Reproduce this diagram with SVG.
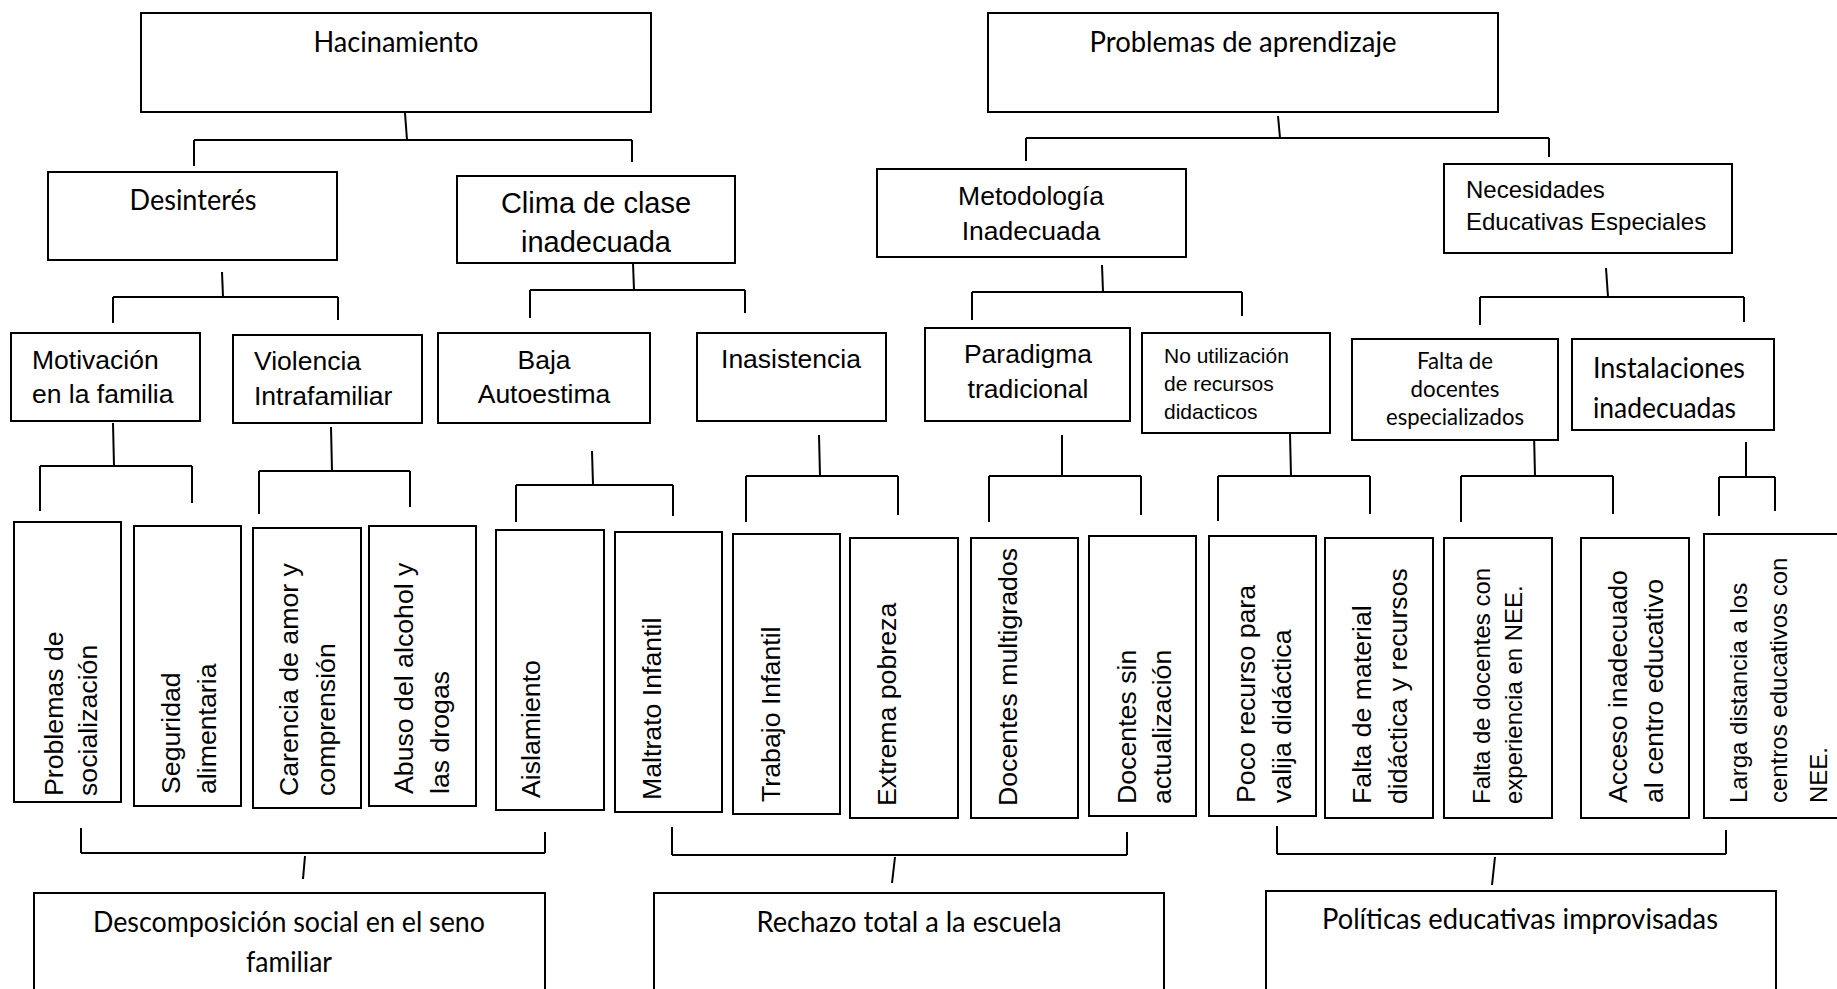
<svg xmlns="http://www.w3.org/2000/svg" width="1837" height="989" viewBox="0 0 1837 989">
<style>
rect{fill:#fff;stroke:#000;stroke-width:2}
.c line{stroke:#000;stroke-width:2}
.cal{font-family:Lato,"Liberation Sans",sans-serif;fill:#000}
.ar{font-family:"Liberation Sans",Arial,sans-serif;fill:#000}
.v{font-family:"Liberation Sans",Arial,sans-serif;fill:#000;font-size:26.7px}
.v24{font-family:"Liberation Sans",Arial,sans-serif;fill:#000;font-size:24px}
.m{text-anchor:middle}
</style>
<rect x="0" y="0" width="1837" height="989" style="fill:#fff;stroke:none"/>
<g class="c" id="connectors">
<line x1="405" y1="113" x2="407" y2="140"/><line x1="194" y1="140" x2="632" y2="140"/><line x1="194" y1="140" x2="194" y2="166"/><line x1="632" y1="140" x2="632" y2="162"/>
<line x1="1278" y1="116" x2="1280" y2="138"/><line x1="1026" y1="138" x2="1549" y2="138"/><line x1="1026" y1="138" x2="1026" y2="161"/><line x1="1549" y1="138" x2="1549" y2="157"/>
<line x1="222" y1="272" x2="223" y2="297"/><line x1="113" y1="297" x2="338" y2="297"/><line x1="113" y1="297" x2="113" y2="323"/><line x1="338" y1="297" x2="338" y2="320"/>
<line x1="633" y1="263" x2="634" y2="290"/><line x1="530" y1="290" x2="745" y2="290"/><line x1="530" y1="290" x2="530" y2="318"/><line x1="745" y1="290" x2="745" y2="313"/>
<line x1="1102" y1="265" x2="1103" y2="292"/><line x1="972" y1="292" x2="1242" y2="292"/><line x1="972" y1="292" x2="972" y2="320"/><line x1="1242" y1="292" x2="1242" y2="316"/>
<line x1="1606" y1="268" x2="1608" y2="297"/><line x1="1480" y1="297" x2="1744" y2="297"/><line x1="1480" y1="297" x2="1480" y2="325"/><line x1="1744" y1="297" x2="1744" y2="322"/>
<line x1="113" y1="423" x2="114" y2="466"/><line x1="40" y1="466" x2="192" y2="466"/><line x1="40" y1="466" x2="40" y2="511"/><line x1="192" y1="466" x2="192" y2="503"/>
<line x1="331" y1="427" x2="332" y2="471"/><line x1="259" y1="471" x2="410" y2="471"/><line x1="259" y1="471" x2="259" y2="514"/><line x1="410" y1="471" x2="410" y2="507"/>
<line x1="592" y1="451" x2="593" y2="485"/><line x1="516" y1="485" x2="673" y2="485"/><line x1="516" y1="485" x2="516" y2="522"/><line x1="673" y1="485" x2="673" y2="516"/>
<line x1="819" y1="435" x2="820" y2="476"/><line x1="746" y1="476" x2="898" y2="476"/><line x1="746" y1="476" x2="746" y2="522"/><line x1="898" y1="476" x2="898" y2="515"/>
<line x1="1062" y1="435" x2="1062" y2="476"/><line x1="989" y1="476" x2="1141" y2="476"/><line x1="989" y1="476" x2="989" y2="522"/><line x1="1141" y1="476" x2="1141" y2="515"/>
<line x1="1290" y1="434" x2="1291" y2="476"/><line x1="1218" y1="476" x2="1370" y2="476"/><line x1="1218" y1="476" x2="1218" y2="521"/><line x1="1370" y1="476" x2="1370" y2="514"/>
<line x1="1534" y1="433" x2="1535" y2="476"/><line x1="1461" y1="476" x2="1613" y2="476"/><line x1="1461" y1="476" x2="1461" y2="522"/><line x1="1613" y1="476" x2="1613" y2="514"/>
<line x1="1746" y1="442" x2="1746" y2="477"/><line x1="1719" y1="477" x2="1775" y2="477"/><line x1="1719" y1="477" x2="1719" y2="516"/><line x1="1775" y1="477" x2="1775" y2="511"/>
<line x1="81" y1="828" x2="81" y2="853"/><line x1="545" y1="832" x2="545" y2="853"/><line x1="81" y1="853" x2="545" y2="853"/><line x1="305" y1="856" x2="303" y2="879"/>
<line x1="672" y1="827" x2="672" y2="855"/><line x1="1127" y1="832" x2="1127" y2="855"/><line x1="672" y1="855" x2="1127" y2="855"/><line x1="895" y1="857" x2="892" y2="883"/>
<line x1="1277" y1="826" x2="1277" y2="854"/><line x1="1726" y1="830" x2="1726" y2="854"/><line x1="1277" y1="854" x2="1726" y2="854"/><line x1="1495" y1="857" x2="1492" y2="885"/>
</g>
<g id="n_hac"><rect x="141" y="13" width="510" height="99"/><text class="cal m" x="396" y="52" font-size="29" textLength="165" lengthAdjust="spacingAndGlyphs">Hacinamiento</text></g>
<g id="n_prob"><rect x="988" y="13" width="510" height="99"/><text class="cal m" x="1243" y="52" font-size="29" textLength="307" lengthAdjust="spacingAndGlyphs">Problemas de aprendizaje</text></g>
<g id="n_des"><rect x="48" y="172" width="289" height="88"/><text class="cal m" x="193" y="210" font-size="29" textLength="127" lengthAdjust="spacingAndGlyphs">Desinterés</text></g>
<g id="n_clima"><rect x="457" y="176" width="278" height="87"/><text class="ar m" x="596" y="213" font-size="29">Clima de clase</text><text class="ar m" x="596" y="252" font-size="29">inadecuada</text></g>
<g id="n_met"><rect x="877" y="169" width="309" height="88"/><text class="ar m" x="1031" y="205" font-size="26.5">Metodología</text><text class="ar m" x="1031" y="240" font-size="26.5">Inadecuada</text></g>
<g id="n_nee"><rect x="1444" y="164" width="288" height="89"/><text class="ar" x="1466" y="198" font-size="24">Necesidades</text><text class="ar" x="1466" y="230" font-size="24">Educativas Especiales</text></g>
<g id="n_mot"><rect x="11" y="333" width="189" height="88"/><text class="ar" x="32" y="369" font-size="26.5">Motivación</text><text class="ar" x="32" y="403" font-size="26.5">en la familia</text></g>
<g id="n_vio"><rect x="233" y="335" width="189" height="88"/><text class="ar" x="254" y="370" font-size="26.5">Violencia</text><text class="ar" x="254" y="405" font-size="26.5">Intrafamiliar</text></g>
<g id="n_baja"><rect x="438" y="333" width="212" height="90"/><text class="ar m" x="544" y="369" font-size="26.5">Baja</text><text class="ar m" x="544" y="403" font-size="26.5">Autoestima</text></g>
<g id="n_ina"><rect x="697" y="333" width="189" height="88"/><text class="ar m" x="791" y="368" font-size="26.5">Inasistencia</text></g>
<g id="n_par"><rect x="925" y="328" width="205" height="93"/><text class="ar m" x="1028" y="363" font-size="26.5">Paradigma</text><text class="ar m" x="1028" y="398" font-size="26.5">tradicional</text></g>
<g id="n_nou"><rect x="1142" y="333" width="188" height="100"/><text class="ar" x="1164" y="363" font-size="21">No utilización</text><text class="ar" x="1164" y="391" font-size="21">de recursos</text><text class="ar" x="1164" y="419" font-size="21">didacticos</text></g>
<g id="n_fdoc"><rect x="1352" y="339" width="206" height="101"/><text class="cal m" x="1455" y="369" font-size="24" textLength="76" lengthAdjust="spacingAndGlyphs">Falta de</text><text class="cal m" x="1455" y="397" font-size="24" textLength="89" lengthAdjust="spacingAndGlyphs">docentes</text><text class="cal m" x="1455" y="425" font-size="24" textLength="138" lengthAdjust="spacingAndGlyphs">especializados</text></g>
<g id="n_inst"><rect x="1572" y="339" width="202" height="91"/><text class="cal" x="1593" y="378" font-size="29" textLength="152" lengthAdjust="spacingAndGlyphs">Instalaciones</text><text class="cal" x="1593" y="418" font-size="29" textLength="143" lengthAdjust="spacingAndGlyphs">inadecuadas</text></g>
<g id="n_l1"><rect x="14" y="522" width="107" height="280"/><text class="v" transform="translate(63,796) rotate(-90)">Problemas de</text><text class="v" transform="translate(97,796) rotate(-90)">socialización</text></g>
<g id="n_l2"><rect x="134" y="526" width="107" height="280"/><text class="v" transform="translate(180,794) rotate(-90)">Seguridad</text><text class="v" transform="translate(216,794) rotate(-90)">alimentaria</text></g>
<g id="n_l3"><rect x="253" y="528" width="108" height="280"/><text class="v" transform="translate(298,796) rotate(-90)">Carencia de amor y</text><text class="v" transform="translate(335,796) rotate(-90)">comprensión</text></g>
<g id="n_l4"><rect x="369" y="526" width="107" height="280"/><text class="v" transform="translate(413,794) rotate(-90)">Abuso del alcohol y</text><text class="v" transform="translate(449,794) rotate(-90)">las drogas</text></g>
<g id="n_l5"><rect x="496" y="530" width="108" height="280"/><text class="v" transform="translate(540,798) rotate(-90)">Aislamiento</text></g>
<g id="n_l6"><rect x="615" y="532" width="107" height="280"/><text class="v" transform="translate(661,800) rotate(-90)">Maltrato Infantil</text></g>
<g id="n_l7"><rect x="733" y="534" width="107" height="280"/><text class="v" transform="translate(780,802) rotate(-90)">Trabajo Infantil</text></g>
<g id="n_l8"><rect x="850" y="538" width="108" height="280"/><text class="v" transform="translate(896,806) rotate(-90)">Extrema pobreza</text></g>
<g id="n_l9"><rect x="971" y="538" width="107" height="280"/><text class="v" transform="translate(1017,806) rotate(-90)">Docentes multigrados</text></g>
<g id="n_l10"><rect x="1089" y="536" width="107" height="280"/><text class="v" transform="translate(1136,804) rotate(-90)">Docentes sin</text><text class="v" transform="translate(1171,804) rotate(-90)">actualización</text></g>
<g id="n_l11"><rect x="1209" y="536" width="107" height="280"/><text class="v" transform="translate(1255,803) rotate(-90)">Poco recurso para</text><text class="v" transform="translate(1291,803) rotate(-90)">valija didáctica</text></g>
<g id="n_l12"><rect x="1325" y="538" width="108" height="280"/><text class="v" transform="translate(1371,804) rotate(-90)">Falta de material</text><text class="v" transform="translate(1407,804) rotate(-90)">didáctica y recursos</text></g>
<g id="n_l13"><rect x="1444" y="538" width="108" height="280"/><text class="v24" transform="translate(1490,804) rotate(-90)">Falta de docentes con</text><text class="v24" transform="translate(1522,804) rotate(-90)">experiencia en NEE.</text></g>
<g id="n_l14"><rect x="1581" y="538" width="108" height="280"/><text class="v" transform="translate(1627,803) rotate(-90)">Acceso inadecuado</text><text class="v" transform="translate(1663,803) rotate(-90)">al centro educativo</text></g>
<g id="n_l15"><rect x="1704" y="534" width="150" height="284"/><text class="v24" transform="translate(1747,803) rotate(-90)">Larga distancia a los</text><text class="v24" transform="translate(1787,803) rotate(-90)">centros educativos con</text><text class="v24" transform="translate(1827,803) rotate(-90)">NEE.</text></g>
<g id="n_desc"><rect x="34" y="893" width="511" height="120"/><text class="cal m" x="289" y="932" font-size="29" textLength="392" lengthAdjust="spacingAndGlyphs">Descomposición social en el seno</text><text class="cal m" x="289" y="972" font-size="29" textLength="86" lengthAdjust="spacingAndGlyphs">familiar</text></g>
<g id="n_rech"><rect x="654" y="893" width="510" height="120"/><text class="cal m" x="909" y="932" font-size="29" textLength="305" lengthAdjust="spacingAndGlyphs">Rechazo total a la escuela</text></g>
<g id="n_pol"><rect x="1266" y="891" width="510" height="120"/><text class="cal m" x="1520" y="929" font-size="29" textLength="396" lengthAdjust="spacingAndGlyphs">Políticas educativas improvisadas</text></g>
</svg>
